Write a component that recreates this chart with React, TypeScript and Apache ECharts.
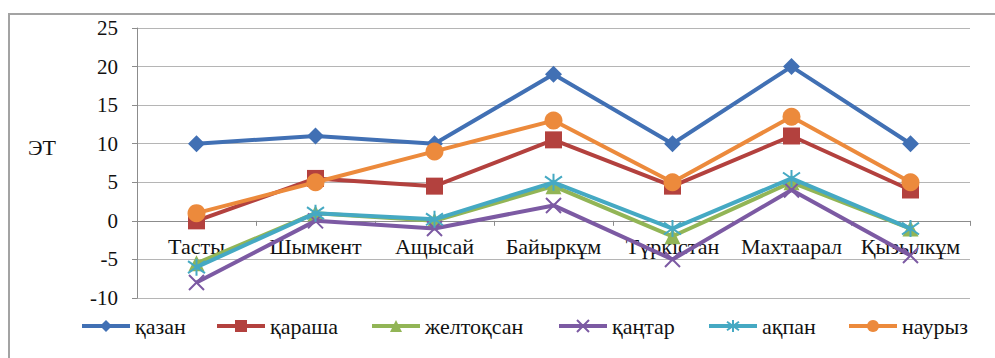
import React, { useEffect, useRef } from "react";
import * as echarts from "echarts";

const categories = ["Тасты", "Шымкент", "Ащысай", "Байыркұм", "Түркістан", "Махтаарал", "Қызылкұм"];
const seriesNames = ["қазан", "қараша", "желтоқсан", "қаңтар", "ақпан", "наурыз"];
const kazan = [10, 11, 10, 19, 10, 20, 10];
const karasha = [0, 5.5, 4.5, 10.5, 4.5, 11, 4];
const zheltoksan = [-5.5, 1, 0, 4.5, -2, 5, -1];
const kantar = [-8, 0, -1, 2, -5, 4, -4.5];
const akpan = [-6, 1, 0.2, 5, -1, 5.5, -1];
const nauryz = [1, 5, 9, 13, 5, 13.5, 5];
const yTicks = { min: -10, max: 25, interval: 5 };
const axisName = "ЭТ";

const colors = ["#4170B4", "#B3413E", "#92B556", "#7C5AA3", "#45A9C3", "#EC8A3C"];
const symbols = [
  "diamond",
  "rect",
  "triangle",
  "path://M0,0L10,10M10,0L0,10",
  "path://M5,0L5,10M0,1.5L10,8.5M10,1.5L0,8.5",
  "circle",
];
const symbolSizes = [17, 17, 16, 15, 17, 18];
const legendLefts = [75, 210, 365, 552, 702, 842];
const FONT = "Liberation Serif";

const GRID_TOP = 28;
const GRID_BOTTOM = 60;
const CHART_H = 358;

export default function App() {
  const ref = useRef<HTMLDivElement>(null);
  useEffect(() => {
    if (!ref.current) return;
    const chart = echarts.init(ref.current, undefined, { renderer: "svg" });
    const dataSets = [kazan, karasha, zheltoksan, kantar, akpan, nauryz];
    const series = seriesNames.map((name, i) => {
      const isStroke = i === 3 || i === 4;
      return {
        name,
        type: "line",
        data: dataSets[i],
        symbol: symbols[i],
        symbolSize: symbolSizes[i],
        showAllSymbol: true,
        lineStyle: { color: colors[i], width: 4 },
        itemStyle: isStroke
          ? { color: colors[i], borderColor: colors[i], borderWidth: 2 }
          : { color: colors[i], borderWidth: 0 },
        emphasis: { disabled: true },
        z: 2 + i,
      };
    });
    const legends = seriesNames.map((name, i) => ({
      show: true,
      data: [name],
      left: legendLefts[i],
      top: 310,
      itemWidth: 48,
      itemHeight: 15,
      selectedMode: false,
      lineStyle: { width: 4 },
      textStyle: { fontFamily: FONT, fontSize: 22, color: "#111" },
    }));
    const plotH = CHART_H - GRID_TOP - GRID_BOTTOM;
    const zeroFromBottom = ((0 - yTicks.min) / (yTicks.max - yTicks.min)) * plotH;
    chart.setOption({
      animation: false,
      color: colors,
      grid: { left: 137, top: GRID_TOP, right: 25, bottom: GRID_BOTTOM, containLabel: false },
      legend: legends,
      graphic: [
        {
          type: "rect",
          shape: { x: 9, y: 14, width: 1000, height: 400 },
          style: { fill: "none", stroke: "#a3a3a3", lineWidth: 2 },
          silent: true,
        },
        {
          type: "text",
          left: 28,
          top: 136,
          style: { text: axisName, fontFamily: FONT, fontSize: 22, fill: "#111" },
          silent: true,
        },
      ],
      xAxis: {
        type: "category",
        data: categories,
        boundaryGap: true,
        offset: -zeroFromBottom,
        axisLine: { show: true, onZero: false, lineStyle: { color: "#8c8c8c", width: 1 } },
        axisTick: { show: true, length: 5, interval: 0, lineStyle: { color: "#8c8c8c" } },
        axisLabel: { interval: 0, margin: 15, fontFamily: FONT, fontSize: 22, color: "#111" },
        splitLine: { show: false },
      },
      yAxis: {
        type: "value",
        min: yTicks.min,
        max: yTicks.max,
        interval: yTicks.interval,
        axisLine: { show: true, lineStyle: { color: "#8c8c8c", width: 1 } },
        axisTick: { show: true, length: 5, lineStyle: { color: "#8c8c8c" } },
        axisLabel: { margin: 19, fontFamily: FONT, fontSize: 21, color: "#111" },
        splitLine: { show: true, lineStyle: { color: "#b5b5b5", width: 1 } },
      },
      series,
    });
    return () => chart.dispose();
  }, []);
  return (
    <div
      ref={ref}
      style={{ position: "fixed", left: 0, top: 0, width: 995, height: 358, background: "#fff" }}
    />
  );
}
